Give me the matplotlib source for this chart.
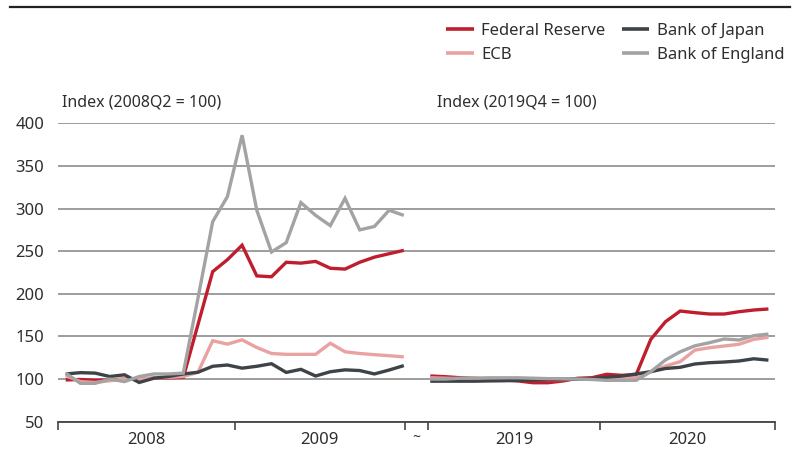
import numpy as np
import matplotlib
matplotlib.use("Agg")
import matplotlib.pyplot as plt
from matplotlib.lines import Line2D

plt.rcParams['font.family'] = ['Noto Sans', 'DejaVu Sans']

# ---- data (monthly index values) ----
series_names = ['Federal Reserve', 'ECB', 'Bank of Japan', 'Bank of England']

fed_0809 = [99, 99.5, 98.5, 99, 100, 100, 101, 101.5, 102, 164, 226, 240,
            257, 221, 220, 237, 236, 238, 230, 229, 237, 243, 247, 251]
ecb_0809 = [104, 97, 96, 98, 100, 100, 101, 102, 103, 108, 145, 141,
            146, 137, 130, 129, 129, 129, 142, 132, 130, 128.6, 127.4, 126]
boj_0809 = [106, 107.5, 107, 103, 105, 96, 101, 103, 106, 108, 115, 116.5,
            112.8, 115, 118, 107.8, 111.4, 103.6, 108.6, 110.8, 110, 106, 110.6, 115.8]
boe_0809 = [107, 95, 95, 100, 97, 103, 106, 106, 107, 195, 284.6, 314,
            386, 298, 249, 260, 307, 292, 280, 312, 275, 279, 298, 292]

fed_1920 = [103.6, 102.8, 101.6, 100.9, 99.7, 98.9, 97.7, 95.7, 95.7, 97.7, 100.9, 101.6,
            105.6, 104.4, 105, 146.6, 167.3, 179.8, 177.9, 176.3, 176.3, 179, 181, 182.2]
ecb_1920 = [101.5, 101, 100.5, 101, 100.5, 100, 100, 100, 99.5, 99.5, 100, 100.5,
            100.5, 100.5, 101, 108.7, 115.3, 120.4, 134, 136.8, 138.8, 140.8, 146.6, 149]
boj_1920 = [97.5, 97.5, 97.5, 97.5, 97.8, 98, 98.5, 99, 99.5, 100, 100, 100.5,
            102, 103.5, 106, 108.7, 112.4, 113.8, 117.7, 119.2, 120, 121.2, 123.8, 122.2]
boe_1920 = [100, 100, 101, 101, 101.5, 101.5, 101.5, 101, 100.5, 100.5, 100, 99.5,
            98.5, 98.5, 98.5, 108.7, 122.4, 132, 139, 142.7, 147, 145.8, 150.9, 152.8]

year_labels = ['2008', '2009', '2019', '2020']
yticks = [50, 100, 150, 200, 250, 300, 350, 400]
left_title = 'Index (2008Q2 = 100)'
right_title = 'Index (2019Q4 = 100)'

colors = ['#BE1E2D', '#E8A2A1', '#3E4347', '#A3A3A3']
text_color = '#2E2E2E'

# ---- layout ----
fig = plt.figure(figsize=(8, 4.5), dpi=100)
ax = fig.add_axes([0.0729, 0.0629, 0.8959, 0.6631])

n = len(fed_0809)
x_left = np.arange(n)
x_right = 24.8 + np.arange(len(fed_1920))

left_data = [fed_0809, ecb_0809, boj_0809, boe_0809]
right_data = [fed_1920, ecb_1920, boj_1920, boe_1920]

handles = []
for name, c, dl, dr in zip(series_names, colors, left_data, right_data):
    ln, = ax.plot(x_left, dl, color=c, lw=2.4, solid_joinstyle='miter',
                  solid_capstyle='butt', label=name)
    ax.plot(x_right, dr, color=c, lw=2.4, solid_joinstyle='miter',
            solid_capstyle='butt')
    handles.append(ln)

ax.set_xlim(-0.5, 48.25)
ax.set_ylim(50, 400)
ax.set_yticks(yticks)
ax.tick_params(axis='y', length=0, pad=10, labelsize=12, labelcolor=text_color)
ax.yaxis.grid(True, color='#8C8C8C', lw=1.2)
ax.set_axisbelow(True)
for s in ['top', 'left', 'right']:
    ax.spines[s].set_visible(False)
ax.spines['bottom'].set_color('#444444')
ax.spines['bottom'].set_linewidth(1.3)

bounds = [-0.5, 11.5, 23.05, 24.67, 36.35, 48.25]
ax.set_xticks(bounds)
ax.set_xticklabels([])
ax.tick_params(axis='x', length=6, width=1.2, color='#444444', direction='out')

centers = [(bounds[0] + bounds[1]) / 2, (bounds[1] + bounds[2]) / 2,
           (bounds[3] + bounds[4]) / 2, (bounds[4] + bounds[5]) / 2]
trans = ax.get_xaxis_transform()
for cx, lab in zip(centers, year_labels):
    ax.text(cx, -0.063, lab, transform=trans, ha='center', va='center',
            fontsize=12, color=text_color)
ax.text((bounds[2] + bounds[3]) / 2, -0.055, '~', transform=trans,
        ha='center', va='center', fontsize=10, color=text_color)

ax.text(0.005, 1.071, left_title, transform=ax.transAxes, ha='left',
        va='center', fontsize=11.5, color=text_color)
ax.text(0.528, 1.071, right_title, transform=ax.transAxes, ha='left',
        va='center', fontsize=11.5, color=text_color)

# top rule
fig.add_artist(Line2D([10 / 800, 790 / 800], [1 - 7 / 450, 1 - 7 / 450],
                      color='#222222', lw=1.6, transform=fig.transFigure))

leg = fig.legend(handles, series_names, loc='upper left',
                 bbox_to_anchor=(441 / 800, 1 - 18 / 450), ncol=2,
                 frameon=False, fontsize=12, handlelength=1.65,
                 handletextpad=0.45, columnspacing=1.0, labelspacing=0.5,
                 borderpad=0.3, borderaxespad=0)
for t in leg.get_texts():
    t.set_color(text_color)
for h in leg.legend_handles:
    h.set_linewidth(2.6)

fig.savefig('out.png', dpi=100)
